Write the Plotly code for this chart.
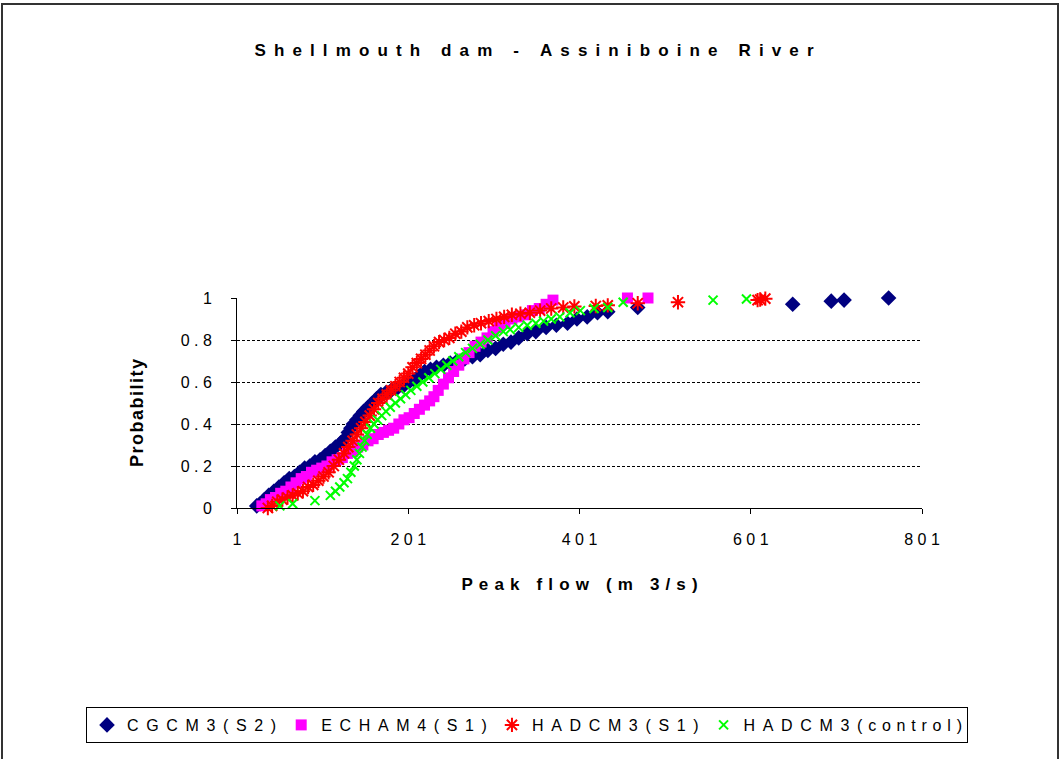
import plotly.graph_objects as go

NB = "\u00a0"
THIN = "\u2009"
HAIR = "\u200a"


def spaced(text, gap, small_gap=None):
    """Letter-spaced label.

    Characters are separated by `gap`; pairs of lowercase letters or
    parentheses next to lowercase letters use `small_gap` when given.
    """
    if small_gap is None:
        return gap.join(text)
    out = text[0]
    for a, b in zip(text, text[1:]):
        tight = (a.islower() or a in "()") and (b.islower() or b in "()") \
            and (a.islower() or b.islower())
        out += (small_gap if tight else gap) + b
    return out


# ---- tick values -------------------------------------------------------
x_tick_vals = [1, 201, 401, 601, 801]
y_tick_vals = [0, 0.2, 0.4, 0.6, 0.8, 1.0]
y_tick_text = ["0", "0.2", "0.4", "0.6", "0.8", "1"]

# ---- series: peak flow (m3/s) vs. cumulative probability ---------------
cgcm3_s2_flow = [24, 28, 33, 38, 44, 50, 56, 62, 68, 74,
                 80, 86, 92, 98, 104, 110, 116, 122, 127, 131,
                 134, 137, 141, 145, 149, 154, 159, 164, 169, 175,
                 181, 188, 195, 202, 208, 214, 220, 227, 234, 242,
                 250, 258, 267, 276, 285, 294, 303, 312, 321, 330,
                 340, 350, 362, 374, 387, 398, 410, 422, 434, 469,
                 650, 695, 710, 762]
cgcm3_s2_prob = [0.01, 0.02, 0.04, 0.06, 0.08, 0.10, 0.12, 0.14, 0.15, 0.17,
                 0.19, 0.20, 0.22, 0.23, 0.25, 0.27, 0.29, 0.31, 0.33, 0.36,
                 0.38, 0.40, 0.42, 0.44, 0.46, 0.48, 0.50, 0.52, 0.54, 0.55,
                 0.56, 0.57, 0.58, 0.60, 0.61, 0.63, 0.65, 0.66, 0.67, 0.68,
                 0.69, 0.70, 0.71, 0.72, 0.73, 0.75, 0.76, 0.78, 0.79, 0.81,
                 0.83, 0.84, 0.86, 0.87, 0.88, 0.90, 0.91, 0.93, 0.935, 0.955,
                 0.97, 0.985, 0.99, 1.0]

echam4_s1_flow = [30, 35, 40, 46, 52, 58, 64, 70, 76, 82,
                  88, 94, 100, 106, 112, 118, 124, 130, 136, 142,
                  148, 154, 160, 166, 172, 178, 184, 190, 196, 202,
                  208, 214, 220, 226, 231, 236, 242, 248, 254, 260,
                  266, 272, 279, 286, 293, 300, 307, 314, 322, 330,
                  338, 346, 354, 362, 370, 457, 481]
echam4_s1_prob = [0.01, 0.02, 0.04, 0.05, 0.07, 0.08, 0.10, 0.12, 0.14, 0.15,
                  0.17, 0.18, 0.19, 0.20, 0.22, 0.23, 0.24, 0.26, 0.27, 0.29,
                  0.30, 0.32, 0.33, 0.35, 0.36, 0.37, 0.38, 0.40, 0.42, 0.43,
                  0.45, 0.47, 0.49, 0.51, 0.53, 0.56, 0.59, 0.62, 0.65, 0.68,
                  0.71, 0.74, 0.77, 0.79, 0.81, 0.84, 0.86, 0.88, 0.90, 0.91,
                  0.92, 0.94, 0.95, 0.97, 0.99, 1.0, 1.0]

hadcm3_s1_flow = [37, 42, 48, 54, 60, 66, 72, 78, 84, 90,
                  96, 102, 108, 114, 120, 126, 131, 136, 141, 146,
                  151, 156, 161, 166, 171, 176, 181, 186, 191, 196,
                  201, 206, 211, 216, 221, 226, 231, 237, 243, 249,
                  256, 263, 270, 278, 286, 295, 304, 313, 322, 332,
                  343, 355, 368, 382, 395, 420, 434, 469, 516, 609,
                  612, 618]
hadcm3_s1_prob = [0.00, 0.01, 0.03, 0.04, 0.05, 0.06, 0.07, 0.08, 0.10, 0.11,
                  0.13, 0.15, 0.17, 0.20, 0.23, 0.26, 0.29, 0.32, 0.35, 0.38,
                  0.41, 0.44, 0.47, 0.50, 0.52, 0.54, 0.56, 0.58, 0.60, 0.62,
                  0.64, 0.67, 0.69, 0.71, 0.73, 0.75, 0.77, 0.79, 0.80, 0.81,
                  0.83, 0.84, 0.86, 0.87, 0.88, 0.89, 0.90, 0.91, 0.92, 0.925,
                  0.93, 0.94, 0.95, 0.955, 0.96, 0.962, 0.965, 0.975, 0.98, 0.99,
                  0.993, 0.997]

hadcm3_ctl_flow = [51, 66, 92, 110, 116, 121, 126, 130, 134, 138,
                   141, 144, 147, 150, 153, 157, 161, 165, 170, 175,
                   180, 186, 192, 198, 204, 211, 218, 225, 232, 239,
                   246, 253, 260, 268, 276, 285, 294, 303, 312, 320,
                   330, 340, 350, 359, 368, 378, 390, 402, 418, 434,
                   452, 557, 596]
hadcm3_ctl_prob = [0.01, 0.02, 0.035, 0.06, 0.08, 0.10, 0.12, 0.14, 0.17, 0.20,
                   0.23, 0.26, 0.29, 0.32, 0.35, 0.38, 0.40, 0.42, 0.44, 0.46,
                   0.48, 0.50, 0.52, 0.54, 0.56, 0.58, 0.60, 0.62, 0.64, 0.66,
                   0.68, 0.70, 0.72, 0.74, 0.76, 0.78, 0.80, 0.82, 0.84, 0.85,
                   0.86, 0.87, 0.88, 0.89, 0.90, 0.91, 0.93, 0.94, 0.95, 0.955,
                   0.98, 0.99, 0.995]

series_names = ["CGCM3(S2)", "ECHAM4(S1)", "HADCM3(S1)", "HADCM3(control)"]

# ---- page geometry -----------------------------------------------------
W, H = 1061, 759
ML, MR, MT, MB = 237, 139, 298, 251
PW, PH = W - ML - MR, H - MT - MB
FONT = "Liberation Sans, Arial, sans-serif"


def px_to_paper_x(px):
    return (px - ML) / PW


def px_to_paper_y(py):
    return (MT + PH - py) / PH


def legend_label(name):
    return spaced(name, NB + THIN, NB + HAIR)


fig = go.Figure()

fig.add_trace(go.Scatter(
    x=cgcm3_s2_flow, y=cgcm3_s2_prob, mode="markers",
    name=legend_label(series_names[0]),
    marker=dict(symbol="diamond", size=12, color="#000080", line=dict(width=0)),
    cliponaxis=False,
))
fig.add_trace(go.Scatter(
    x=echam4_s1_flow, y=echam4_s1_prob, mode="markers",
    name=legend_label(series_names[1]),
    marker=dict(symbol="square", size=11, color="#FF00FF", line=dict(width=0)),
    cliponaxis=False,
))
fig.add_trace(go.Scatter(
    x=hadcm3_s1_flow, y=hadcm3_s1_prob, mode="markers",
    name=legend_label(series_names[2]),
    marker=dict(symbol="asterisk-open", size=12, color="#FF0000",
                line=dict(width=2, color="#FF0000")),
    cliponaxis=False,
))
fig.add_trace(go.Scatter(
    x=hadcm3_ctl_flow, y=hadcm3_ctl_prob, mode="markers",
    name=legend_label(series_names[3]),
    marker=dict(symbol="x-thin-open", size=9, color="#00FF00",
                line=dict(width=2, color="#00FF00")),
    cliponaxis=False,
))

# outer chart frame
fig.add_shape(
    type="rect", xref="paper", yref="paper",
    x0=px_to_paper_x(2), x1=px_to_paper_x(1058),
    y0=px_to_paper_y(775), y1=px_to_paper_y(4),
    line=dict(color="#333333", width=2), fillcolor="rgba(0,0,0,0)",
    layer="below",
)

# y-axis title
fig.add_annotation(
    text="<b>" + spaced("Probability", HAIR) + "</b>",
    xref="paper", yref="paper",
    x=px_to_paper_x(137), y=px_to_paper_y(413),
    textangle=-90, showarrow=False,
    xanchor="center", yanchor="middle",
    font=dict(size=18, family=FONT, color="black"),
)

fig.update_layout(
    width=W, height=H,
    margin=dict(l=ML, r=MR, t=MT, b=MB, pad=0, autoexpand=False),
    paper_bgcolor="white", plot_bgcolor="white",
    font=dict(family=FONT, size=16, color="black"),
    title=dict(
        text="<b>" + spaced("Shellmouth dam - Assiniboine River", NB + THIN) + "</b>",
        x=534 / W, xref="container", xanchor="center",
        y=1 - 50 / H, yref="container", yanchor="middle",
        font=dict(size=17, family=FONT, color="black"),
    ),
    xaxis=dict(
        range=[1, 801], tickvals=x_tick_vals,
        ticktext=[spaced(str(v), NB) for v in x_tick_vals],
        showline=True, linecolor="black", linewidth=1,
        ticks="outside", ticklen=5, tickcolor="black",
        showgrid=False, zeroline=False, ticklabelstandoff=12,
        title=dict(text="<b>" + spaced("Peak flow (m 3/s)", NB + HAIR) + "</b>",
                   font=dict(size=17), standoff=30),
    ),
    yaxis=dict(
        range=[0, 1], tickvals=y_tick_vals,
        ticktext=[spaced(t, NB) for t in y_tick_text],
        showline=True, linecolor="black", linewidth=1,
        ticks="outside", ticklen=5, tickcolor="black",
        showgrid=True, gridcolor="black", gridwidth=1, griddash="3px,2px",
        zeroline=False, ticklabelstandoff=16,
    ),
    legend=dict(
        orientation="h", xref="paper", yref="paper",
        x=px_to_paper_x(86), y=px_to_paper_y(707),
        xanchor="left", yanchor="top",
        bordercolor="black", borderwidth=1, bgcolor="white",
        font=dict(size=16, family=FONT, color="black"),
        itemwidth=30, tracegroupgap=0,
    ),
    showlegend=True,
)

fig.write_html("out.html")
